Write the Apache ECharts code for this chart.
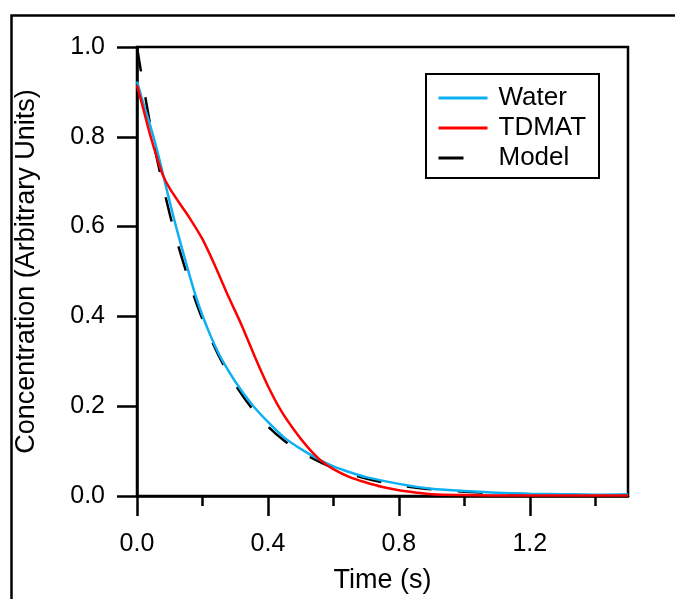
<!DOCTYPE html>
<html><head><meta charset="utf-8">
<script src="https://cdn.jsdelivr.net/npm/echarts@6/dist/echarts.min.js"></script>
<style>html,body{margin:0;padding:0;background:#fff}#c{width:675px;height:599px}</style>
</head><body><div id="c"></div>
<script>
// ---- data ----
const legendNames = ['Water', 'TDMAT', 'Model'];
const xMajorTicks = [0, 0.4, 0.8, 1.2];
const xMinorTicks = [0.2, 0.6, 1.0, 1.4];
const yTicks = [0, 0.2, 0.4, 0.6, 0.8, 1.0];

const waterTime = [0, 0.02, 0.04, 0.06, 0.08, 0.10, 0.12, 0.14, 0.16, 0.18, 0.20, 0.22, 0.24, 0.26, 0.30, 0.35, 0.40, 0.45, 0.50, 0.56, 0.60, 0.65, 0.70, 0.80, 0.90, 1.0, 1.1, 1.2, 1.3, 1.4, 1.5];
const waterConc = [0.923, 0.873, 0.826, 0.774, 0.715, 0.655, 0.598, 0.545, 0.493, 0.444, 0.402, 0.365, 0.332, 0.303, 0.255, 0.205, 0.165, 0.130, 0.105, 0.080, 0.066, 0.053, 0.042, 0.027, 0.016, 0.011, 0.007, 0.005, 0.004, 0.003, 0.004];

const tdmatTime = [0, 0.02, 0.04, 0.06, 0.08, 0.10, 0.13, 0.16, 0.20, 0.24, 0.28, 0.32, 0.36, 0.40, 0.44, 0.48, 0.52, 0.56, 0.60, 0.65, 0.70, 0.75, 0.80, 0.85, 0.90, 1.0, 1.1, 1.2, 1.5];
const tdmatConc = [0.915, 0.860, 0.805, 0.756, 0.713, 0.685, 0.652, 0.620, 0.572, 0.510, 0.443, 0.380, 0.310, 0.245, 0.190, 0.147, 0.110, 0.080, 0.060, 0.042, 0.030, 0.020, 0.013, 0.008, 0.004, 0.002, 0.001, 0.001, 0.001];

const modelTime = [0, 0.01, 0.025, 0.05, 0.075, 0.10, 0.125, 0.15, 0.175, 0.20, 0.25, 0.30, 0.35, 0.40, 0.45, 0.50, 0.60, 0.70, 0.80, 0.90, 1.0, 1.1, 1.2, 1.3, 1.4, 1.5];
const modelConc = [1.0, 0.955, 0.890, 0.790, 0.705, 0.628, 0.560, 0.500, 0.443, 0.394, 0.312, 0.248, 0.196, 0.155, 0.123, 0.098, 0.062, 0.039, 0.024, 0.015, 0.0095, 0.006, 0.004, 0.0024, 0.0015, 0.001];

const xTitle = 'Time (s)';
const yTitle = 'Concentration (Arbitrary Units)';

// ---- chart ----
const FONT = '"Liberation Sans", Arial, sans-serif';
const pairs = (xs, ys) => xs.map((x, i) => [x, ys[i]]);
const chart = echarts.init(document.getElementById('c'), null, {renderer: 'canvas'});

chart.setOption({
  animation: false,
  backgroundColor: '#fff',
  textStyle: {fontFamily: FONT, color: '#000'},
  grid: {left: 137, top: 47, right: 47, bottom: 103, show: true, borderColor: '#000', borderWidth: 2.5, backgroundColor: 'transparent'},
  graphic: [
    {type: 'rect', left: 9, top: 13, shape: {x: 0, y: 0, width: 720, height: 700},
     style: {fill: 'none', stroke: '#000', lineWidth: 2.5}, z: 0, silent: true},
    {type: 'rect', shape: {x: 426, y: 74, width: 173, height: 104},
     style: {fill: '#fff', stroke: '#000', lineWidth: 2}, z: 5, silent: true}
  ],
  legend: {
    data: legendNames, orient: 'vertical', left: 437, top: 85, padding: 0, itemGap: 4,
    itemWidth: 49, itemHeight: 26, z: 10,
    itemStyle: {opacity: 0},
    lineStyle: {width: 3},
    textStyle: {fontSize: 26, fontFamily: FONT, color: '#000', padding: [0, 0, 0, 6]}
  },
  xAxis: [{
    type: 'value', min: 0, max: 1.5, position: 'bottom',
    axisLine: {show: true, onZero: false, lineStyle: {color: '#000', width: 2.5}},
    axisTick: {show: true, inside: false, length: 20, customValues: xMajorTicks, lineStyle: {color: '#000', width: 2.5}},
    axisLabel: {customValues: xMajorTicks, formatter: v => v.toFixed(1), fontSize: 25, color: '#000', margin: 36, fontFamily: FONT},
    splitLine: {show: false},
    name: xTitle, nameLocation: 'middle', nameGap: 71,
    nameTextStyle: {fontSize: 27, color: '#000', fontFamily: FONT}
  }, {
    type: 'value', min: 0, max: 1.5, position: 'bottom', gridIndex: 0,
    axisLine: {show: false},
    axisTick: {show: true, inside: false, length: 10, customValues: xMinorTicks, lineStyle: {color: '#000', width: 2.5}},
    axisLabel: {show: false},
    splitLine: {show: false}
  }],
  yAxis: {
    type: 'value', min: 0, max: 1, interval: 0.2,
    axisLine: {show: true, onZero: false, lineStyle: {color: '#000', width: 2.5}},
    axisTick: {show: true, inside: false, length: 20, customValues: yTicks, lineStyle: {color: '#000', width: 2.5}},
    axisLabel: {customValues: yTicks, formatter: v => v.toFixed(1), fontSize: 25, color: '#000', margin: 32, fontFamily: FONT},
    splitLine: {show: false},
    name: yTitle, nameLocation: 'middle', nameGap: 97,
    nameTextStyle: {fontSize: 27, color: '#000', fontFamily: FONT}
  },
  series: [
    {name: 'Model', type: 'line', xAxisIndex: 0, data: pairs(modelTime, modelConc), smooth: 0.3, showSymbol: false, symbol: 'none',
     lineStyle: {color: '#000', width: 2.5, type: [25, 26]}, itemStyle: {color: '#000'}, z: 2},
    {name: 'Water', type: 'line', xAxisIndex: 0, data: pairs(waterTime, waterConc), smooth: 0.3, showSymbol: false, symbol: 'none',
     lineStyle: {color: '#0DB0F2', width: 2.5}, itemStyle: {color: '#0DB0F2'}, z: 3},
    {name: 'TDMAT', type: 'line', xAxisIndex: 0, data: pairs(tdmatTime, tdmatConc), smooth: 0.3, showSymbol: false, symbol: 'none',
     lineStyle: {color: '#FF0000', width: 2.5}, itemStyle: {color: '#FF0000'}, z: 4}
  ]
});
</script>
</body></html>
